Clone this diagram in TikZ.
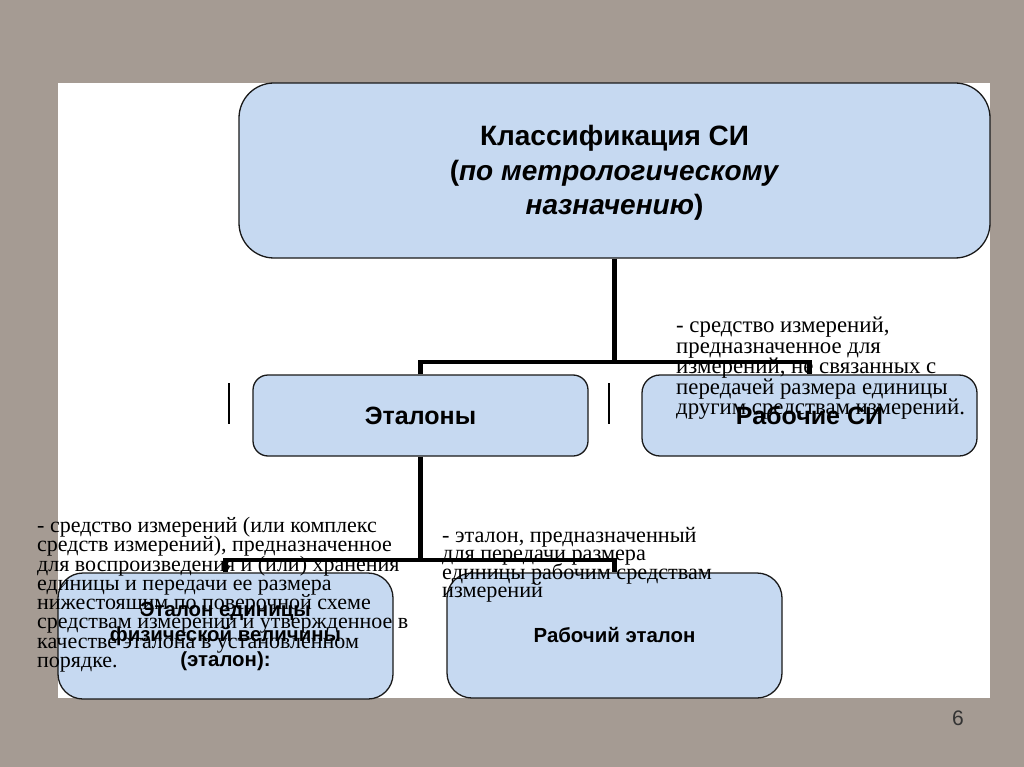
\documentclass[tikz,border=0pt]{standalone}
\usepackage{fontspec}
\setmainfont{Liberation Serif}
\newfontfamily\arialfont{Liberation Sans}
\definecolor{boxblue}{RGB}{198,217,241}
\definecolor{slatebg}{RGB}{165,155,147}
\definecolor{boxline}{RGB}{25,25,25}
\newcommand\tightlines{\lineskiplimit=-50pt\lineskip=0pt}
\begin{document}
\begin{tikzpicture}[x=1pt,y=-1pt,
  box/.style={draw=boxline,line width=1.3pt,fill=boxblue,minimum width=335pt,minimum height=81pt,
    align=center,inner sep=0pt,font=\arialfont\bfseries\fontsize{25}{34.5}\selectfont\tightlines},
  smallbox/.style={box,minimum height=126pt,rounded corners=25pt,font=\arialfont\bfseries\fontsize{20.4}{25}\selectfont\tightlines},
  note/.style={anchor=north west,align=left,inner sep=0pt},
  conn/.style={line width=4.5pt,black},
  tick/.style={line width=2pt,black}]
  % slide frame
  \useasboundingbox (0,0) rectangle (1024,767);
  \fill[slatebg] (0,0) rectangle (1024,767);
  \fill[white] (58,83) rectangle (990,698);
  % boxes
  \node[box,minimum width=751pt,minimum height=175pt,rounded corners=35pt,
    font=\arialfont\bfseries\fontsize{28}{34.5}\selectfont\tightlines] (cls) at (614.5,170.5) {};
  \node[align=center,inner sep=0pt,font=\arialfont\bfseries\fontsize{28}{34.5}\selectfont\tightlines]
    (clstext) at (614.5,173) {Классификация СИ\\(\textit{по метрологическому}\\\textit{назначению})};
  \node[box,rounded corners=15pt] (etal) at (420.5,415.5) {Эталоны};
  \node[box,rounded corners=18pt] (rab) at (809.5,415.5) {Рабочие СИ};
  \node[smallbox] (etu) at (225.5,636) {Эталон единицы\\физической величины\\(эталон):};
  \node[smallbox,minimum height=125pt] (rabet) at (614.5,635.5) {Рабочий эталон};
  % definitions laid over the boxes
  \node[note,font=\fontsize{22.8}{20.5}\selectfont\tightlines] (rabdef) at (676,317)
    {- средство измерений,\\предназначенное для\\измерений, не связанных с\\передачей размера единицы\\другим средствам измерений.};
  \node[note,font=\fontsize{22}{19.3}\selectfont\tightlines] (etudef) at (37,517)
    {- средство измерений (или комплекс\\средств измерений), предназначенное\\для воспроизведения и (или) хранения\\единицы и передачи ее размера\\нижестоящим по поверочной схеме\\средствам измерений и утвержденное в\\качестве эталона в установленном\\порядке.};
  \node[note,font=\fontsize{22.2}{18.3}\selectfont\tightlines] (rabetdef) at (442,527)
    {- эталон, предназначенный\\для передачи размера\\единицы рабочим средствам\\измерений};
  % connectors
  \coordinate (j1) at (614.5,362);
  \draw[conn] (cls.south) -- (j1);
  \draw[conn] (etal.north) |- (j1) -| (rab.north);
  \coordinate (j2) at (420.5,560);
  \draw[conn] (etal.south) -- (j2);
  \draw[conn] (etu.north) |- (j2) -| (rabet.north);
  \draw[tick] (229,383) -- (229,424);
  \draw[tick] (609,383) -- (609,424);
  \node[font=\arialfont\fontsize{21}{24}\selectfont,text=black!80] (pg) at (958,718) {6};
\end{tikzpicture}
\end{document}
